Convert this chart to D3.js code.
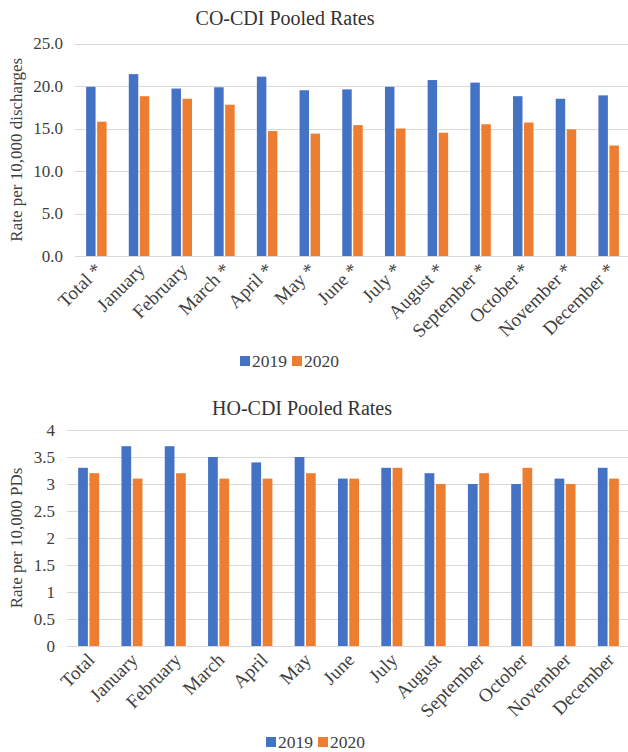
<!DOCTYPE html>
<html>
<head>
<meta charset="utf-8">
<script src="https://cdnjs.cloudflare.com/ajax/libs/d3/7.8.5/d3.min.js"></script>
<style>
  html, body { margin: 0; padding: 0; background: #fff; }
  svg { display: block; }
  text { font-family: "Liberation Serif", "Times New Roman", serif; fill: #404040; }
</style>
</head>
<body>
<svg id="chart" width="628" height="752"></svg>
<script>
// ---------- data ----------
const coCategories = ["Total *", "January", "February", "March *", "April *", "May *", "June *",
  "July *", "August *", "September *", "October *", "November *", "December *"];
const co2019 = [19.9, 21.4, 19.7, 19.85, 21.1, 19.5, 19.6, 19.9, 20.7, 20.4, 18.8, 18.5, 18.9];
const co2020 = [15.8, 18.8, 18.5, 17.8, 14.7, 14.4, 15.4, 15.0, 14.5, 15.5, 15.7, 14.9, 13.0];
const coTicks = [0, 5, 10, 15, 20, 25];

const hoCategories = ["Total", "January", "February", "March", "April", "May", "June",
  "July", "August", "September", "October", "November", "December"];
const ho2019 = [3.3, 3.7, 3.7, 3.5, 3.4, 3.5, 3.1, 3.3, 3.2, 3.0, 3.0, 3.1, 3.3];
const ho2020 = [3.2, 3.1, 3.2, 3.1, 3.1, 3.2, 3.1, 3.3, 3.0, 3.2, 3.3, 3.0, 3.1];
const hoTicks = [0, 0.5, 1, 1.5, 2, 2.5, 3, 3.5, 4];

const seriesNames = ["2019", "2020"];
const seriesColors = ["#4472C4", "#ED7D31"];

// ---------- drawing ----------
const svg = d3.select("#chart");

function drawChart(opts) {
  const g = svg.append("g");
  const x = d3.scaleBand().domain(opts.categories).range([opts.x0, opts.x1]).paddingInner(0).paddingOuter(0);
  const y = d3.scaleLinear().domain([0, opts.yMax]).range([opts.y0, opts.y1]);
  const sub = d3.scaleBand().domain(seriesNames).range([0, opts.pairWidth]).paddingInner(opts.subGap);

  // gridlines
  g.append("g").selectAll("line").data(opts.ticks).join("line")
    .attr("x1", opts.x0).attr("x2", opts.gridRight)
    .attr("y1", d => Math.round(y(d)) + 0.5).attr("y2", d => Math.round(y(d)) + 0.5)
    .attr("stroke", "#d9d9d9").attr("stroke-width", 1);

  // y tick labels
  g.append("g").selectAll("text").data(opts.ticks).join("text")
    .attr("x", opts.x0 - 12).attr("y", d => y(d))
    .attr("dy", "0.35em").attr("text-anchor", "end")
    .style("font-size", "17px")
    .text(d => opts.tickFormat(d));

  // bars
  const rows = opts.categories.map((c, i) => ({ c, vals: [opts.s1[i], opts.s2[i]] }));
  const groups = g.append("g").selectAll("g").data(rows).join("g")
    .attr("transform", d => `translate(${x(d.c) + (x.bandwidth() - opts.pairWidth) / 2},0)`);
  groups.selectAll("rect").data(d => d.vals.map((v, k) => ({ v, k }))).join("rect")
    .attr("x", d => sub(seriesNames[d.k]))
    .attr("width", sub.bandwidth())
    .attr("y", d => y(d.v))
    .attr("height", d => y(0) - y(d.v))
    .attr("fill", d => seriesColors[d.k]);

  // x labels rotated
  g.append("g").selectAll("text").data(opts.categories).join("text")
    .attr("transform", d => `translate(${x(d) + x.bandwidth() / 2 + 7},${opts.y0 + 15}) rotate(-45)`)
    .attr("text-anchor", "end")
    .style("font-size", "19px")
    .text(d => d);

  // title
  g.append("text").attr("x", opts.titleX).attr("y", opts.titleY)
    .attr("text-anchor", "middle").style("font-size", "20px").style("fill", "#333")
    .text(opts.title);

  // y axis title
  g.append("text")
    .attr("transform", `translate(${opts.yTitleX},${(opts.y0 + opts.y1) / 2}) rotate(-90)`)
    .attr("text-anchor", "middle").style("font-size", "17px")
    .text(opts.yTitle);

  // legend
  const lg = g.append("g").attr("transform", `translate(${opts.legendX},${opts.legendY})`);
  const items = lg.selectAll("g").data(seriesNames).join("g")
    .attr("transform", (d, i) => `translate(${i * 52},0)`);
  items.append("rect").attr("x", 0).attr("y", -11).attr("width", 10).attr("height", 10)
    .attr("fill", (d, i) => seriesColors[i]);
  items.append("text").attr("x", 12).attr("y", 0).style("font-size", "17.5px").text(d => d);
}

drawChart({
  categories: coCategories, s1: co2019, s2: co2020, ticks: coTicks, yMax: 25,
  tickFormat: d => d.toFixed(1),
  x0: 75, x1: 630, gridRight: 628, y0: 256, y1: 43.5, pairWidth: 20.5, subGap: 0.14,
  title: "CO-CDI Pooled Rates", titleX: 285, titleY: 25,
  yTitle: "Rate per 10,000 discharges", yTitleX: 22,
  legendX: 240, legendY: 367
});

drawChart({
  categories: hoCategories, s1: ho2019, s2: ho2020, ticks: hoTicks, yMax: 4,
  tickFormat: d => String(d),
  x0: 67, x1: 630, gridRight: 628, y0: 646, y1: 430, pairWidth: 21, subGap: 0.14,
  title: "HO-CDI Pooled Rates", titleX: 302, titleY: 415,
  yTitle: "Rate per 10,000 PDs", yTitleX: 22,
  legendX: 266, legendY: 748
});
</script>
</body>
</html>
